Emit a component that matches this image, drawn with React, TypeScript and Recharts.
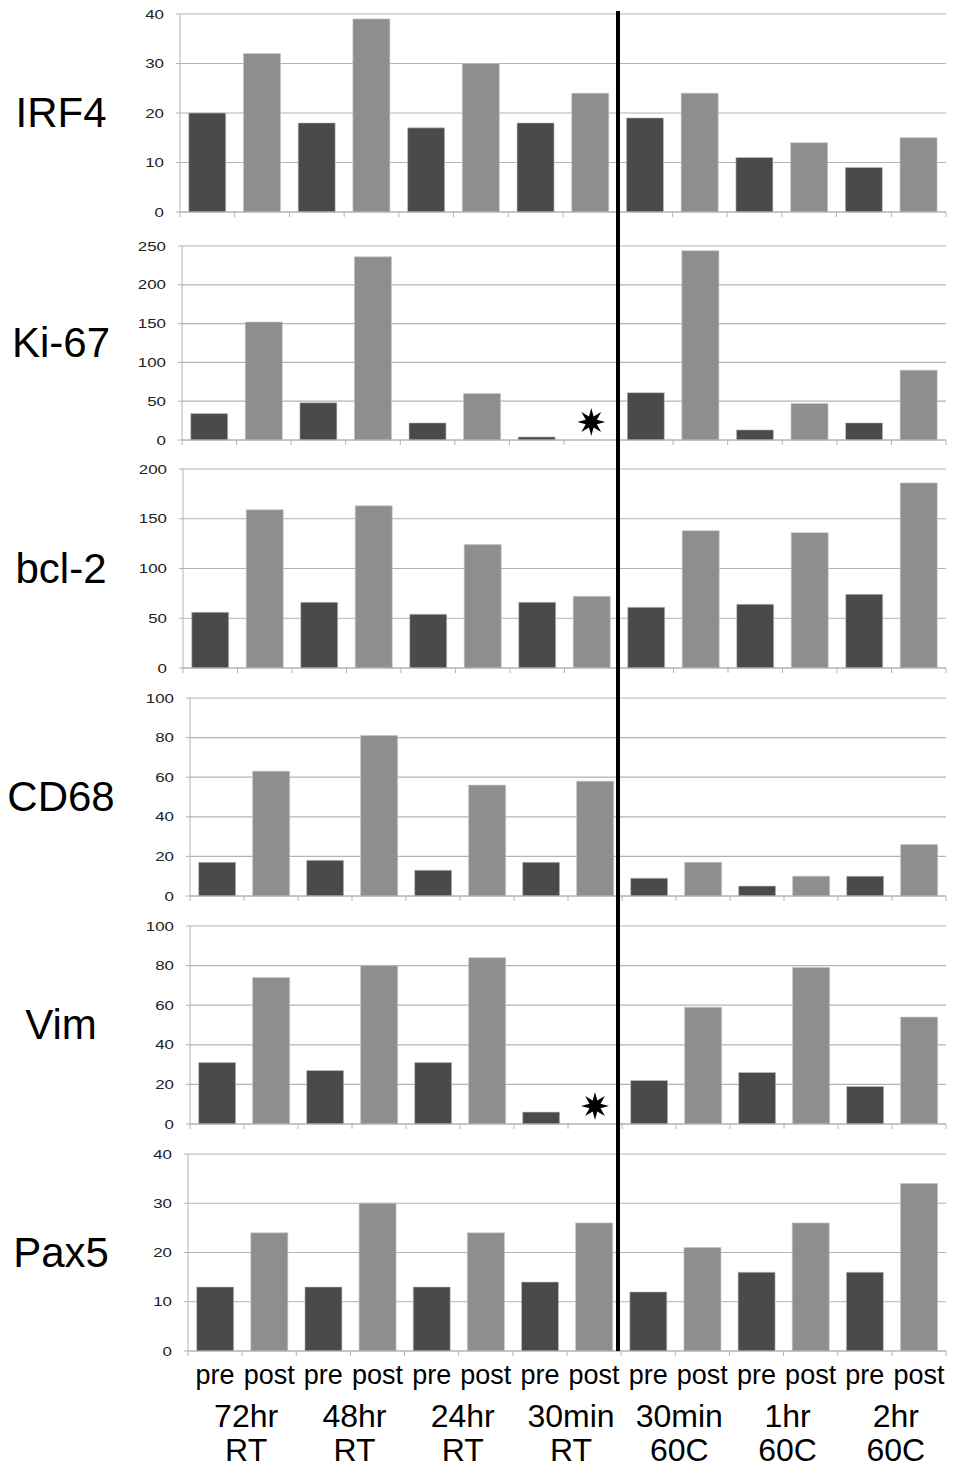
import React from 'react'
import { BarChart, Bar, XAxis, YAxis, CartesianGrid, Cell, ReferenceDot } from 'recharts'

// --- data ---
const groups = ['72hr RT', '48hr RT', '24hr RT', '30min RT', '30min 60C', '1hr 60C', '2hr 60C']
const groupLine1 = ['72hr', '48hr', '24hr', '30min', '30min', '1hr', '2hr']
const groupLine2 = ['RT', 'RT', 'RT', 'RT', '60C', '60C', '60C']
const phases = ['pre', 'post']

const irf4Pre = [20, 18, 17, 18, 19, 11, 9]
const irf4Post = [32, 39, 30, 24, 24, 14, 15]
const ki67Pre = [34, 48, 22, 4, 61, 13, 22]
const ki67Post = [152, 236, 60, null, 244, 47, 90]
const bcl2Pre = [56, 66, 54, 66, 61, 64, 74]
const bcl2Post = [159, 163, 124, 72, 138, 136, 186]
const cd68Pre = [17, 18, 13, 17, 9, 5, 10]
const cd68Post = [63, 81, 56, 58, 17, 10, 26]
const vimPre = [31, 27, 31, 6, 22, 26, 19]
const vimPost = [74, 80, 84, null, 59, 79, 54]
const pax5Pre = [13, 13, 13, 14, 12, 16, 16]
const pax5Post = [24, 30, 24, 26, 21, 26, 34]

const irf4Ticks = [0, 10, 20, 30, 40]
const ki67Ticks = [0, 50, 100, 150, 200, 250]
const bcl2Ticks = [0, 50, 100, 150, 200]
const cd68Ticks = [0, 20, 40, 60, 80, 100]
const vimTicks = [0, 20, 40, 60, 80, 100]
const pax5Ticks = [0, 10, 20, 30, 40]

const panels = [
  { name: 'IRF4', pre: irf4Pre, post: irf4Post, ticks: irf4Ticks },
  { name: 'Ki-67', pre: ki67Pre, post: ki67Post, ticks: ki67Ticks },
  { name: 'bcl-2', pre: bcl2Pre, post: bcl2Post, ticks: bcl2Ticks },
  { name: 'CD68', pre: cd68Pre, post: cd68Post, ticks: cd68Ticks },
  { name: 'Vim', pre: vimPre, post: vimPost, ticks: vimTicks },
  { name: 'Pax5', pre: pax5Pre, post: pax5Post, ticks: pax5Ticks },
]

// --- layout ---
const W = 968
const H = 1467
const PLOT_RIGHT = 946
const MT = 10
const layout = [
  { top: 14, left: 180, h: 198 },
  { top: 246, left: 182, h: 194 },
  { top: 469, left: 183, h: 199 },
  { top: 698, left: 190, h: 198 },
  { top: 926, left: 190, h: 198 },
  { top: 1154, left: 188, h: 197 },
]
const FONT = '"Liberation Sans", Arial, Helvetica, sans-serif'
const DARK = '#4a4a4a'
const LIGHT = '#8e8e8e'
const GRID = '#b3b3b3'

function Star({ cx, cy }: { cx: number; cy: number }) {
  const pts: string[] = []
  for (let i = 0; i < 16; i++) {
    const r = i % 2 === 0 ? 14 : 6
    const a = (Math.PI / 8) * i - Math.PI / 2
    pts.push(`${cx + r * Math.cos(a)},${cy + r * Math.sin(a)}`)
  }
  return <polygon points={pts.join(' ')} fill="#000" />
}

function YTick({ x, y, payload }: any) {
  return (
    <text transform={`translate(${x},${y}) scale(1.3,1)`} textAnchor="end" dy="0.36em"
      fontSize={13} fill="#222" fontFamily={FONT}>
      {payload.value}
    </text>
  )
}

function XTick({ x, index, axisY, slot, showLabels }: any) {
  const half = slot / 2
  const g = Math.floor(index / 2)
  return (
    <g>
      <line x1={x - half} x2={x - half} y1={axisY} y2={axisY + 5} stroke={GRID} />
      {index === 13 && <line x1={x + half} x2={x + half} y1={axisY} y2={axisY + 5} stroke={GRID} />}
      {showLabels && (
        <text x={x} y={axisY + 33} textAnchor="middle" fontSize={27} fill="#000" fontFamily={FONT}>
          {phases[index % 2]}
        </text>
      )}
      {showLabels && index % 2 === 0 && (
        <text x={x + half + 4} y={axisY + 76} textAnchor="middle" fontSize={32} fill="#000" fontFamily={FONT}>
          {groupLine1[g]}
        </text>
      )}
      {showLabels && index % 2 === 0 && (
        <text x={x + half + 4} y={axisY + 110} textAnchor="middle" fontSize={32} fill="#000" fontFamily={FONT}>
          {groupLine2[g]}
        </text>
      )}
    </g>
  )
}

function Panel({ idx }: { idx: number }) {
  const p = panels[idx]
  const lay = layout[idx]
  const last = idx === panels.length - 1
  const xh = last ? 118 : 8
  const chartH = MT + lay.h + xh
  const axisY = MT + lay.h
  const slot = (PLOT_RIGHT - lay.left) / 14
  const rows = groups.flatMap((g, i) => [
    { key: `${g}|pre`, phase: 'pre', value: p.pre[i] },
    { key: `${g}|post`, phase: 'post', value: p.post[i] },
  ])
  const yMax = p.ticks[p.ticks.length - 1]
  return (
    <div style={{ position: 'absolute', left: 0, top: lay.top - MT, width: W, height: chartH }}>
      <BarChart width={W} height={chartH} data={rows} barCategoryGap="16%"
        margin={{ top: MT, right: W - PLOT_RIGHT, bottom: 0, left: 0 }}>
        <CartesianGrid vertical={false} stroke={GRID} strokeWidth={1.2} />
        <XAxis dataKey="key" interval={0} height={xh} axisLine={{ stroke: GRID }} tickLine={false}
          tick={(props: any) => <XTick {...props} axisY={axisY} slot={slot} showLabels={last} />} />
        <YAxis width={lay.left} domain={[0, yMax]} ticks={p.ticks} interval={0}
          axisLine={{ stroke: GRID }} tickLine={{ stroke: GRID }} tickSize={4} tickMargin={12}
          tick={<YTick />} />
        <Bar dataKey="value" isAnimationActive={false} stroke="#c4c4c4" strokeWidth={0.6}>
          {rows.map((r) => (
            <Cell key={r.key} fill={r.phase === 'pre' ? DARK : LIGHT} />
          ))}
        </Bar>
        {rows.filter((r) => r.value == null).map((r) => (
          <ReferenceDot key={r.key} x={r.key} y={0} r={0} ifOverflow="visible"
            shape={(s: any) => <Star cx={s.cx} cy={s.cy - 18} />} />
        ))}
      </BarChart>
      <div style={{
        position: 'absolute', left: 0, width: 122, top: MT + lay.h / 2 - 25, height: 50,
        lineHeight: '50px', textAlign: 'center', fontSize: 42, fontFamily: FONT, color: '#000',
      }}>
        {p.name}
      </div>
    </div>
  )
}

export default function App() {
  // divider between the RT and 60C groups, at the boundary after the 4th pair
  const dividerX = layout[0].left + 8 * ((PLOT_RIGHT - layout[0].left) / 14)
  return (
    <div style={{ position: 'absolute', left: 0, top: 0, width: W, height: H, background: '#fff' }}>
      {panels.map((_, i) => (
        <Panel key={i} idx={i} />
      ))}
      <div style={{
        position: 'absolute', left: dividerX - 2, top: 11, width: 4,
        height: layout[5].top + layout[5].h - 11, background: '#000',
      }} />
    </div>
  )
}
